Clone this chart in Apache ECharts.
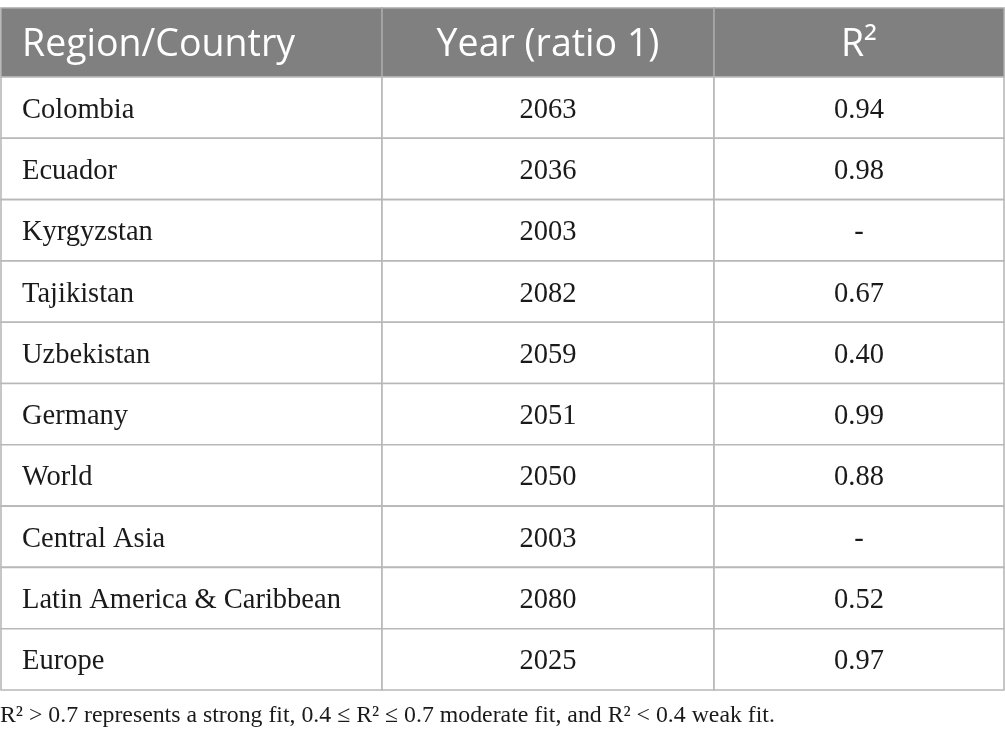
<!DOCTYPE html>
<html>
<head>
<meta charset="utf-8">
<script src="https://cdn.jsdelivr.net/npm/echarts@6/dist/echarts.min.js"></script>
<style>html,body{margin:0;padding:0;background:#fff}#c{width:1005px;height:749px}</style>
</head>
<body>
<div id="c"></div>
<script>
const headers = ['Region/Country', 'Year (ratio 1)', 'R\u00B2'];
const regions = ['Colombia', 'Ecuador', 'Kyrgyzstan', 'Tajikistan', 'Uzbekistan', 'Germany', 'World', 'Central Asia', 'Latin America & Caribbean', 'Europe'];
const years = [2063, 2036, 2003, 2082, 2059, 2051, 2050, 2003, 2080, 2025];
const r2 = [0.94, 0.98, null, 0.67, 0.40, 0.99, 0.88, null, 0.52, 0.97];
const footnote = 'R\u00B2 > 0.7 represents a strong fit, 0.4 \u2264 R\u00B2 \u2264 0.7 moderate fit, and R\u00B2 < 0.4 weak fit.';

const colLeft = [1, 382, 714];
const colWidth = [381, 332, 290];
const headTop = 8, headH = 69, bodyTop = 77, bodyH = 613;
const lineColor = '#b8b8b8';

const columnText = [
  regions,
  years.map(String),
  r2.map(v => v == null ? '-' : v.toFixed(2))
];

const grids = [], xAxes = [], yAxes = [], series = [];
for (let c = 0; c < 3; c++) {
  grids.push({left: colLeft[c], top: headTop, width: colWidth[c], height: headH});
  xAxes.push({type: 'category', gridIndex: c, data: [headers[c]], show: false});
  yAxes.push({type: 'category', gridIndex: c, data: ['header'], show: false});
}
for (let c = 0; c < 3; c++) {
  grids.push({left: colLeft[c], top: bodyTop, width: colWidth[c], height: bodyH});
  xAxes.push({type: 'category', gridIndex: 3 + c, data: [headers[c]], show: false});
  yAxes.push({type: 'category', gridIndex: 3 + c, data: regions, inverse: true, show: false});
}

function makeRender(isHeader, colIdx) {
  return function (params, api) {
    const p = api.coord([api.value(0), api.value(1)]);
    const s = api.size([1, 1]);
    const x0 = p[0] - s[0] / 2, y0 = p[1] - s[1] / 2;
    const text = isHeader ? headers[colIdx] : columnText[colIdx][params.dataIndex];
    const leftAlign = colIdx === 0;
    return {
      type: 'group',
      children: [
        {type: 'rect', shape: {x: x0, y: y0, width: s[0], height: s[1]},
         style: {fill: isHeader ? '#808080' : '#ffffff', stroke: isHeader ? '#a9a9a9' : lineColor, lineWidth: 1.6}},
        {type: 'text', x: leftAlign ? x0 + 21 : p[0], y: p[1] + (isHeader ? 3 : 2.5),
         style: {text: text, fill: isHeader ? '#ffffff' : '#1a1a1a',
           fontFamily: isHeader ? 'Open Sans' : 'Liberation Serif',
           fontSize: isHeader ? 37.5 : 28.5,
           align: leftAlign ? 'left' : 'center', verticalAlign: 'middle'}}
      ]
    };
  };
}

for (let c = 0; c < 3; c++) {
  series.push({type: 'custom', xAxisIndex: c, yAxisIndex: c,
    renderItem: makeRender(true, c), data: [[0, 0]], silent: true, animation: false});
}
for (let c = 0; c < 3; c++) {
  series.push({type: 'custom', xAxisIndex: 3 + c, yAxisIndex: 3 + c,
    renderItem: makeRender(false, c), data: regions.map((r, j) => [0, j]), silent: true, animation: false});
}

const chart = echarts.init(document.getElementById('c'));
chart.setOption({
  animation: false,
  backgroundColor: '#ffffff',
  title: {text: footnote, left: 0, top: 704, padding: 0,
    textStyle: {fontFamily: 'Liberation Serif', fontSize: 23.8, fontWeight: 'normal', color: '#1a1a1a'}},
  grid: grids, xAxis: xAxes, yAxis: yAxes, series: series
});
</script>
</body>
</html>
